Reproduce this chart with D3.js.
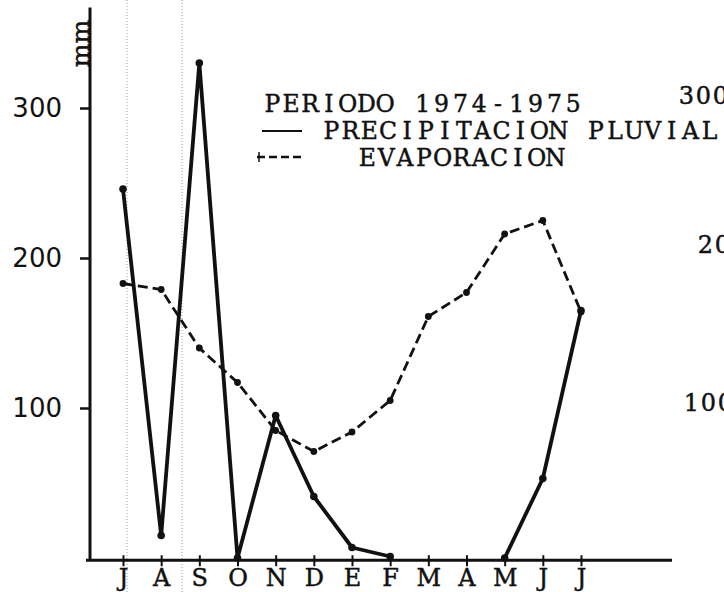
<!DOCTYPE html>
<html>
<head>
<meta charset="utf-8">
<script src="https://cdn.jsdelivr.net/npm/d3@7/dist/d3.min.js"></script>
<style>
  html, body { margin: 0; padding: 0; background: #fff; overflow: hidden; }
  svg { display: block; }
  .type { font-family: "DejaVu Serif", "Liberation Serif", serif; fill: #111; stroke: #111; stroke-width: 0.45px; }
  .sans { font-family: "DejaVu Sans", sans-serif; fill: #111; }
</style>
</head>
<body>
<svg id="chart" width="724" height="592"></svg>
<script>
// ---- data ----
const months = ["J", "A", "S", "O", "N", "D", "E", "F", "M", "A", "M", "J", "J"];
const precipitacion = [246, 15, 330, 0, 95, 41, 7, 1, null, null, 0, 53, 165];
const evaporacion = [183, 179, 140, 117, 85, 71, 84, 105, 161, 177, 216, 225, 164];
const yTicks = [100, 200, 300];
const rightLabels = ["300", "200", "100"];
const title = "PERIODO 1974-1975";
const legendNames = ["PRECIPITACION PLUVIAL", "EVAPORACION"];
const unitLabel = "mm";

// ---- layout ----
const W = 724, H = 592;
const svg = d3.select("#chart");
const idx = months.map((_, i) => i);

const x = d3.scalePoint().domain(idx).range([123, 581]);
const y = d3.scaleLinear().domain([0, 300]).range([558, 108]);

// typewriter-like text: each character on a fixed pitch
function typeText(parent, str, x0, yBase, pitch, size) {
  const chars = Array.from(str);
  return parent.append("text").attr("class", "type")
    .attr("x", chars.map((c, i) => (x0 + pitch * (i + 0.5)).toFixed(1)).join(" "))
    .attr("y", yBase).attr("text-anchor", "middle")
    .style("font-size", size + "px").text(str);
}

// scan fold lines (faint dotted verticals)
svg.append("g").selectAll("line").data([127, 182]).join("line")
  .attr("x1", d => d).attr("x2", d => d).attr("y1", 0).attr("y2", H)
  .attr("stroke", "#a0a0a0").attr("stroke-width", 1).attr("stroke-dasharray", "1,2");

// Y axis
const yAxis = d3.axisLeft(y).tickValues(yTicks).tickSize(10).tickPadding(18).tickFormat(d3.format("d"));
const gy = svg.append("g").attr("transform", "translate(90,0)").call(yAxis);
gy.select(".domain").remove();
gy.selectAll(".tick line").attr("stroke", "#111").attr("stroke-width", 2.5);
gy.selectAll(".tick text").attr("class", "sans").style("font-size", "26px").attr("dy", "0.32em");
gy.append("line").attr("x1", 0).attr("x2", 0).attr("y1", y(367)).attr("y2", y(-1.5))
  .attr("stroke", "#111").attr("stroke-width", 3);

// unit label
svg.append("text").attr("class", "type").attr("transform", `translate(81,${y(343)}) rotate(-90)`)
  .attr("text-anchor", "middle").attr("dy", "0.3em").style("font-size", "25px").text(unitLabel);

// X axis
const xAxis = d3.axisBottom(x).tickSize(0).tickPadding(0).tickFormat(i => months[i]);
const gx = svg.append("g").attr("transform", `translate(0,${y(-1.5)})`).call(xAxis);
gx.select(".domain").remove();
gx.selectAll(".tick text").attr("class", "type").style("font-size", "24px").attr("y", 25.5).attr("dy", null);
gx.append("line").attr("x1", 86).attr("x2", 672).attr("y1", 0).attr("y2", 0)
  .attr("stroke", "#111").attr("stroke-width", 3);
gx.selectAll(".tick").append("line").attr("y1", -5).attr("y2", 6)
  .attr("stroke", "#111").attr("stroke-width", 2);

// right-side partial labels (cut by the page edge, as in the scan)
const gr = svg.append("g");
rightLabels.forEach((t, i) => typeText(gr, t, [678, 697, 683][i], [104, 253, 411][i], 17, 24));

// series
const line = d3.line().defined(d => d != null).x((d, i) => x(i)).y(d => y(d));
const lineE = d3.line().x((d, i) => x(i)).y(d => y(d));

svg.append("path").datum(evaporacion).attr("d", lineE)
  .attr("fill", "none").attr("stroke", "#111").attr("stroke-width", 2.8).attr("stroke-dasharray", "10,5");
svg.append("g").selectAll("circle").data(evaporacion).join("circle")
  .attr("cx", (d, i) => x(i)).attr("cy", d => y(d)).attr("r", 3.4).attr("fill", "#111");

svg.append("path").datum(precipitacion).attr("d", line)
  .attr("fill", "none").attr("stroke", "#111").attr("stroke-width", 3.8).attr("stroke-linejoin", "round");
svg.append("g").selectAll("circle").data(precipitacion.map((v, i) => ({ v, i })).filter(d => d.v != null)).join("circle")
  .attr("cx", d => x(d.i)).attr("cy", d => y(d.v)).attr("r", 3.8).attr("fill", "#111");

// legend
const gl = svg.append("g");
typeText(gl, title, 263, 112, 18.8, 23.5);
typeText(gl, legendNames[0], 322, 139, 18.9, 23.5);
typeText(gl, legendNames[1], 358, 166, 18.8, 23.5);
gl.append("line").attr("x1", 262).attr("x2", 302).attr("y1", 131).attr("y2", 131)
  .attr("stroke", "#111").attr("stroke-width", 2);
gl.append("line").attr("x1", 257).attr("x2", 302).attr("y1", 157).attr("y2", 157)
  .attr("stroke", "#111").attr("stroke-width", 2.5).attr("stroke-dasharray", "8,4");
gl.append("line").attr("x1", 259).attr("x2", 259).attr("y1", 152).attr("y2", 162)
  .attr("stroke", "#111").attr("stroke-width", 1.5);
</script>
</body>
</html>
